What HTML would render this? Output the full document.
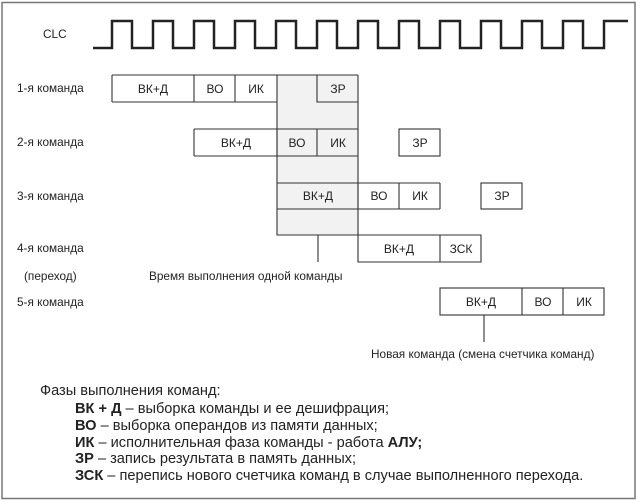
<!DOCTYPE html>
<html><head><meta charset="utf-8"><style>
html,body{margin:0;padding:0;background:#fff;}
svg{display:block;}
text{font-family:"Liberation Sans",sans-serif;fill:#222;}
.l{font-size:11.8px;}
.b{font-size:12px;text-anchor:middle;}
.g{font-size:14.6px;}
</style></head><body>
<svg width="640" height="502" viewBox="0 0 640 502" xmlns="http://www.w3.org/2000/svg">
<rect x="2" y="2.5" width="633" height="496" fill="#fff" stroke="#777" stroke-width="1.5"/>
<text x="43" y="38" class="l">CLC</text>
<path d="M93,48 H112 V21 H132 V48 H153 V21 H173 V48 H194 V21 H214 V48 H235 V21 H255 V48 H276 V21 H296 V48 H317 V21 H337 V48 H358 V21 H378 V48 H399 V21 H419 V48 H440 V21 H460 V48 H481 V21 H501 V48 H522 V21 H542 V48 H563 V21 H583 V48 H604 V21 H628" fill="none" stroke="#222" stroke-width="2.5"/>
<rect x="277" y="75" width="81" height="160" fill="#f2f2f2"/>
<g fill="none" stroke="#333" stroke-width="1.1">
<path d="M277,75 V235 H358 V75"/>
<path d="M112,75 H358 M112,75 V102 M112,102 H277 M194,75 V102 M235,75 V102 M317,75 V102 H358"/>
<path d="M194,129 H358 M194,156 H358 M194,129 V156 M277,129 V156 M317,129 V156"/>
<rect x="399" y="129" width="41" height="27"/>
<path d="M277,183 H440 M277,209 H440 M358,183 V209 M399,183 V209 M440,183 V209"/>
<rect x="481" y="183" width="41" height="26"/>
<path d="M358,235 H481 V262 H358 V235 M440,235 V262"/>
<rect x="440" y="288" width="164" height="27"/>
<path d="M522,288 V315 M563,288 V315"/>
<path d="M318,235 V262 M484,315 V342"/>
</g>
<text x="17" y="92" class="l">1-я команда</text>
<text x="17" y="146" class="l">2-я команда</text>
<text x="17" y="200" class="l">3-я команда</text>
<text x="17" y="252" class="l">4-я команда</text>
<text x="24" y="280" class="l">(переход)</text>
<text x="17" y="306" class="l">5-я команда</text>
<text x="149" y="280" class="l">Время выполнения одной команды</text>
<text x="371" y="358" class="l">Новая команда (смена счетчика команд)</text>
<text x="153" y="93" class="b">ВК+Д</text><text x="215" y="93" class="b">ВО</text><text x="256" y="93" class="b">ИК</text><text x="338" y="93" class="b">ЗР</text>
<text x="236" y="147" class="b">ВК+Д</text><text x="297" y="147" class="b">ВО</text><text x="338" y="147" class="b">ИК</text><text x="420" y="147" class="b">ЗР</text>
<text x="318" y="200" class="b">ВК+Д</text><text x="379" y="200" class="b">ВО</text><text x="420" y="200" class="b">ИК</text><text x="502" y="200" class="b">ЗР</text>
<text x="399" y="253" class="b">ВК+Д</text><text x="461" y="253" class="b">ЗСК</text>
<text x="481" y="306" class="b">ВК+Д</text><text x="543" y="306" class="b">ВО</text><text x="584" y="306" class="b">ИК</text>
<text x="40" y="395" class="g">Фазы выполнения команд:</text>
<text x="75" y="413" class="g"><tspan font-weight="bold">ВК + Д</tspan> – выборка команды и ее дешифрация;</text>
<text x="75" y="430" class="g"><tspan font-weight="bold">ВО</tspan> – выборка операндов из памяти данных;</text>
<text x="75" y="447" class="g"><tspan font-weight="bold">ИК</tspan> – исполнительная фаза команды - работа <tspan font-weight="bold">АЛУ;</tspan></text>
<text x="75" y="463" class="g"><tspan font-weight="bold">ЗР</tspan> – запись результата в память данных;</text>
<text x="75" y="480" class="g"><tspan font-weight="bold">ЗСК</tspan> – перепись нового счетчика команд в случае выполненного перехода.</text>
</svg>
</body></html>
